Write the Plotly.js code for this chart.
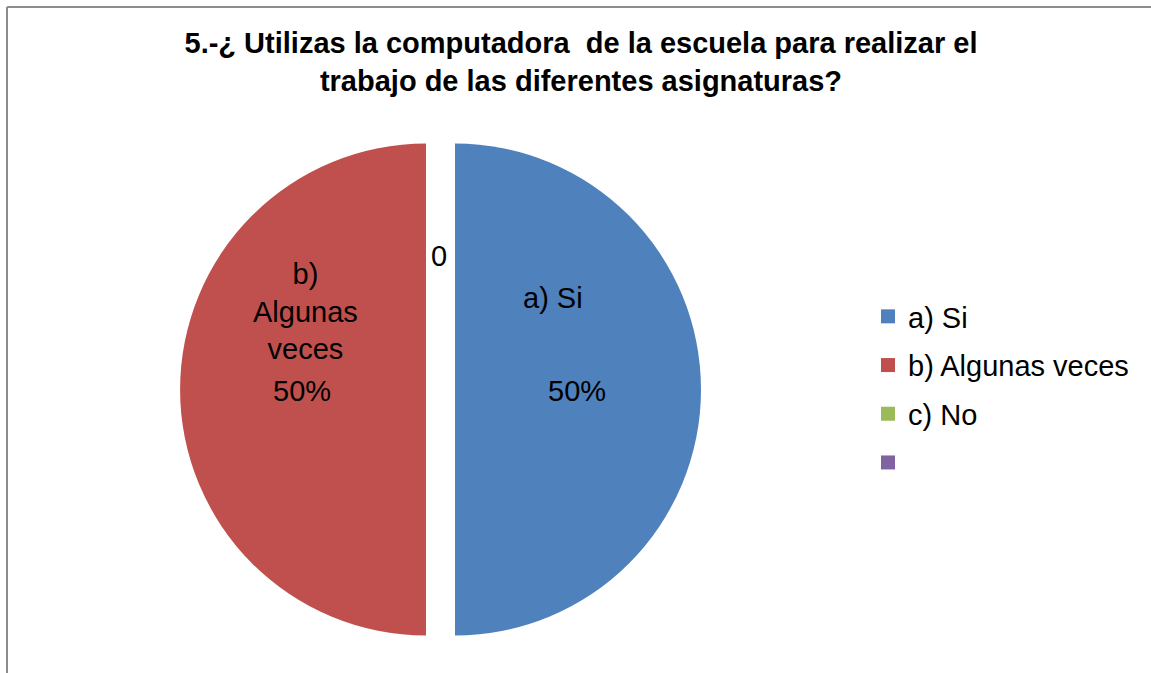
<!DOCTYPE html>
<html>
<head>
<meta charset="utf-8">
<script src="https://cdn.plot.ly/plotly-3.0.1.min.js"></script>
<style>
  html, body { margin: 0; padding: 0; background: #ffffff; }
  #chart { width: 1151px; height: 673px; }
</style>
</head>
<body>
<div id="chart"></div>
<script>
// ---- data ----
const categories = ["a) Si", "b) Algunas veces", "c) No", ""];
const values = [50, 50, 0, 0];
const sliceColors = ["#4F81BD", "#C0504D", "#9BBB59", "#8064A2"];
const labelLines = ["a) Si", "b)<br>Algunas<br>veces"];
const titleLines = [
  "5.-¿ Utilizas la computadora  de la escuela para realizar el",
  "trabajo de las diferentes asignaturas?"
];

const total = values.reduce((a, b) => a + b, 0);
const pct = values.map(v => Math.round(100 * v / total) + "%");

const W = 1151, H = 673;
const px = x => x / W;
const py = y => 1 - y / H;

const FONT = "Liberation Sans, Arial, sans-serif";

const pie = {
  type: "pie",
  labels: categories.map((c, i) => c === "" ? " " : c),
  values: values,
  sort: false,
  direction: "clockwise",
  rotation: 0,
  pull: [0.059, 0.059, 0, 0],
  marker: { colors: sliceColors, line: { width: 0 } },
  textinfo: "none",
  hoverinfo: "label+value+percent",
  showlegend: false,
  domain: { x: [px(180), px(701)], y: [py(650), py(129)] }
};

// legend entries (one per category)
const legendTraces = categories.map((c, i) => ({
  type: "scatter",
  mode: "markers",
  x: [null], y: [null],
  name: c,
  legendgroup: "g" + i,
  marker: { symbol: "square", size: 14, color: sliceColors[i] },
  showlegend: true,
  hoverinfo: "skip"
}));

const annFont = { family: FONT, size: 29, color: "#000000" };
const annotations = [
  { x: px(553), y: py(298), text: labelLines[0] },
  { x: px(577), y: py(391), text: pct[0] },
  { x: px(305), y: py(311), text: labelLines[1] },
  { x: px(302), y: py(391), text: pct[1] },
  { x: px(439), y: py(256), text: String(values[2]) }
].map(a => Object.assign({
  xref: "paper", yref: "paper", showarrow: false,
  xanchor: "center", yanchor: "middle", font: annFont, align: "center"
}, a));

const layout = {
  width: W, height: H,
  margin: { l: 0, r: 0, t: 0, b: 0 },
  paper_bgcolor: "#ffffff",
  plot_bgcolor: "#ffffff",
  title: {
    text: "<b>" + titleLines.join("<br>") + "</b>",
    font: { family: FONT, size: 29, color: "#000000" },
    x: px(581), xanchor: "center",
    y: 1 - 53 / H, yanchor: "top"
  },
  xaxis: { visible: false },
  yaxis: { visible: false },
  showlegend: true,
  legend: {
    x: px(868), xanchor: "left",
    y: py(291), yanchor: "top",
    font: { family: FONT, size: 29, color: "#000000" },
    tracegroupgap: 8,
    bgcolor: "rgba(0,0,0,0)"
  },
  annotations: annotations,
  shapes: [
    { type: "line", xref: "paper", yref: "paper", x0: px(7), x1: px(7), y0: 0, y1: py(7),
      line: { color: "#8C8C8C", width: 2 } },
    { type: "line", xref: "paper", yref: "paper", x0: px(7), x1: 1, y0: py(7), y1: py(7),
      line: { color: "#8C8C8C", width: 2 } }
  ]
};

Plotly.newPlot("chart", [pie].concat(legendTraces), layout, { displayModeBar: false, staticPlot: true });
</script>
</body>
</html>
